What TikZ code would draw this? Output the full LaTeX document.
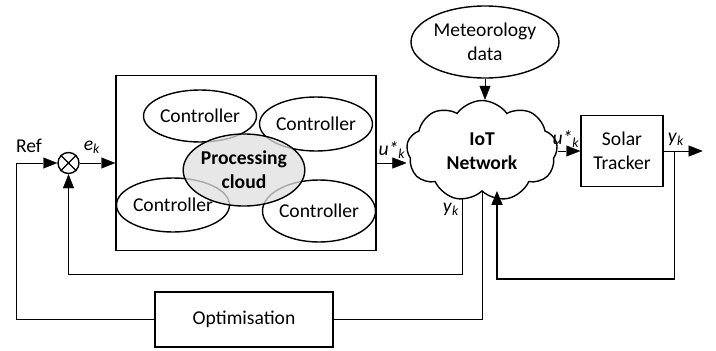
\documentclass[tikz,border=0pt]{standalone}
\usepackage{fontspec}
\setmainfont{Carlito}
\usetikzlibrary{shapes.geometric,shapes.symbols,arrows.meta,calc,backgrounds}
\begin{document}
\begin{tikzpicture}[x=1pt,y=-1pt, line width=1.4pt,
  font=\fontsize{19.6}{24}\selectfont,
  >={Triangle[length=14pt,width=11pt]},
  blk/.style={draw, rectangle, inner sep=0pt, align=center},
  ctrl/.style={draw, ellipse, inner sep=0pt},
  lbl/.style={inner sep=0pt},
  boldtxt/.style={font=\fontsize{19.6}{24}\selectfont\bfseries}]
\useasboundingbox (0,0) rectangle (716,351);

% nodes
\node[draw, circle, minimum size=21pt, inner sep=0pt] (sum) at (68.5,163) {};
\draw (sum.45) -- (sum.225) (sum.135) -- (sum.-45);
\node[lbl] (ref) at (29,146) {Ref};
\node[lbl] (ek) at (92,147) {\textit{e}\textsubscript{\textit{k}}};

\node[blk, minimum width=260pt, minimum height=175pt] (box) at (246,163) {};
\node[ctrl, minimum width=104pt, minimum height=52pt] (c1) at (200,116) {Controller};
\node[ctrl, minimum width=108pt, minimum height=54pt] (c2) at (316,124) {Controller};
\node[ctrl, minimum width=102pt, minimum height=54pt] (c3) at (173,205) {Controller};
\node[ctrl, minimum width=104pt, minimum height=62pt] (c4) at (319,211) {Controller};
\node[ctrl, boldtxt, align=center, minimum width=120pt, minimum height=72pt,
      fill=gray!25, fill opacity=0.75, text opacity=1] (proc) at (244,170) {Processing\\cloud};

\node[draw, ellipse, inner sep=0pt, align=center, minimum width=148pt, minimum height=72pt] (met) at (485,42) {Meteorology\\data};
\node[cloud, draw, fill=white, cloud puffs=9, cloud puff arc=110, aspect=1.5, inner sep=0pt, align=center,
      minimum width=151pt, minimum height=101pt, boldtxt] (cloud) at (482,151) {IoT\\Network};

\node[blk, minimum width=82pt, minimum height=71pt] (st) at (622,151) {Solar\\Tracker};
\node[blk, minimum width=178pt, minimum height=55pt] (opt) at (244,319.5) {Optimisation};

% labels
\node[lbl] (u1) at (392,150) {\textit{u*}\textsubscript{\textit{k}}};
\node[lbl] (u2) at (566,139) {\textit{u*}\textsubscript{\textit{k}}};
\node[lbl] (y1) at (676,139) {\textit{y}\textsubscript{\textit{k}}};
\node[lbl] (y2) at (451,209) {\textit{y}\textsubscript{\textit{k}}};

% coordinates
\coordinate (lc) at (16,163);
\coordinate (yend) at ($(st.east)+(39,0)$);
\coordinate (tap) at ($(st.east)+(11,0)$);
\coordinate (fbin) at ($(cloud.south)+(15,-1)$);
\coordinate (ykt) at ($(cloud.south)+(-20,-20)$);

% connectors
\draw[->] (tap) -- (tap |- 0,279) -| (fbin);
\begin{scope}[on background layer]
\draw[->] (sum.east) -- (box.west);
\draw[->] (box.east) -- (box.east -| cloud.west);
\draw[->] (met.south) -- (met.south |- cloud.north);
\draw[->] (cloud.east) -- (cloud.east -| st.west);
\draw[->] (st.east) -- (yend);
\draw[->] (ykt) -- (ykt |- 0,274) -| (sum.south);
\draw (cloud.south) |- (opt.east);
\draw[->] (opt.west) -| (lc) -- (sum.west);
\end{scope}
\end{tikzpicture}
\end{document}
